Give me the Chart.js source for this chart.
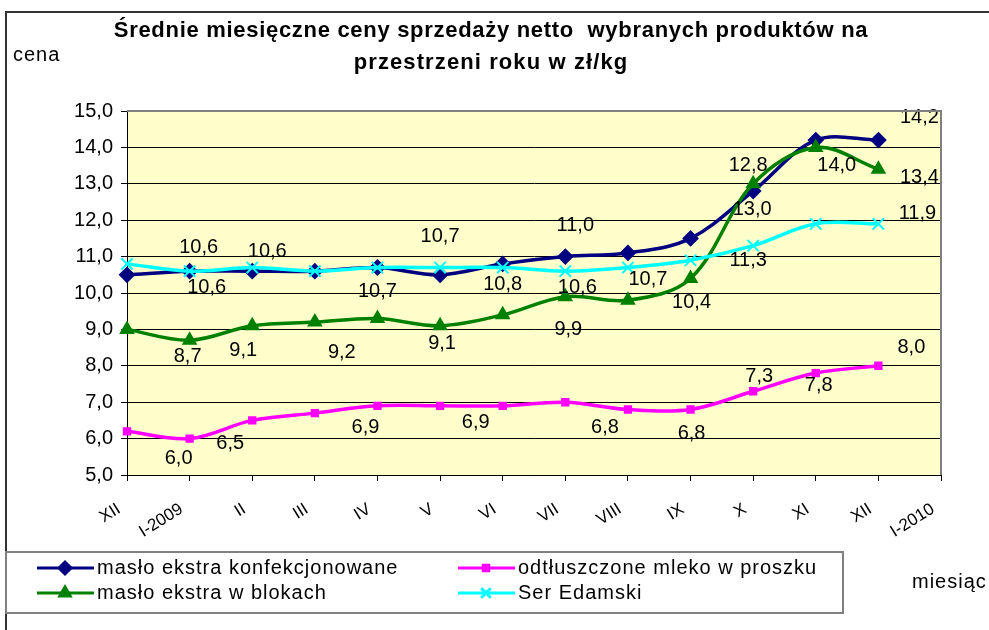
<!DOCTYPE html>
<html>
<head>
<meta charset="utf-8">
<script src="https://cdn.jsdelivr.net/npm/chart.js@4.4.1/dist/chart.umd.min.js"></script>
<style>
  html, body { margin: 0; padding: 0; background: #fff; }
  canvas { display: block; }
</style>
</head>
<body>
<canvas id="wykres" width="989" height="630"></canvas>
<script>
// miesiace na osi X
const months = ['XII', 'I-2009', 'II', 'III', 'IV', 'V', 'VI', 'VII', 'VIII', 'IX', 'X', 'XI', 'XII', 'I-2010'];

// ceny w zl/kg
const masloKonf = [10.5, 10.6, 10.6, 10.6, 10.7, 10.5, 10.8, 11.0, 11.1, 11.5, 12.8, 14.2, 14.2];
const mleko = [6.2, 6.0, 6.5, 6.7, 6.9, 6.9, 6.9, 7.0, 6.8, 6.8, 7.3, 7.8, 8.0];
const masloBloki = [9.0, 8.7, 9.1, 9.2, 9.3, 9.1, 9.4, 9.9, 9.8, 10.4, 13.0, 14.0, 13.4];
const ser = [10.8, 10.6, 10.7, 10.6, 10.7, 10.7, 10.7, 10.6, 10.7, 10.9, 11.3, 11.9, 11.9];

const yTicks = [5, 6, 7, 8, 9, 10, 11, 12, 13, 14, 15];

// ktore punkty maja etykiete: [indeks, przesuniecie x, przesuniecie y]
const etykMasloKonf = [[1, 9, -24], [2, 15, -20], [6, 0, 21], [7, 10, -31], [10, -5, -26], [12, 41, -23]];
const etykMleko = [[1, -11, 20], [2, -22, 23], [4, -12, 22], [6, -27, 17], [8, -23, 18], [9, 1, 24], [10, 6, -15], [11, 3, 12], [12, 33, -18]];
const etykMasloBloki = [[1, -2, 16], [2, -9, 25], [3, 27, 30], [5, 2, 18], [7, 3, 33], [9, 1, 24], [10, -1, 26], [11, 21, 18], [12, 41, 8]];
const etykSer = [[1, 17, 16], [4, 0, 24], [5, 0, -31], [7, 12, 16], [8, 20, 12], [10, -5, 15], [12, 39, -10]];

const FONT = 'Arial, "Liberation Sans", sans-serif';
const fmt = v => v.toFixed(1).replace('.', ',');

const serie = [
    { label: 'masło ekstra konfekcjonowane', data: masloKonf, color: '#000080', style: 'rectRot', r: 7, etyk: etykMasloKonf, order: 4 },
    { label: 'odtłuszczone mleko w proszku', data: mleko, color: '#FF00FF', style: 'rect', r: 4.5, etyk: etykMleko, order: 3 },
    { label: 'masło ekstra w blokach', data: masloBloki, color: '#008000', style: 'triangle', r: 7, etyk: etykMasloBloki, order: 2 },
    { label: 'Ser Edamski', data: ser, color: '#00FFFF', style: 'crossRot', r: 8, etyk: etykSer, order: 1 }
];

const tlo = {
    id: 'tlo',
    beforeDraw(chart) {
        const { ctx, chartArea: a } = chart;
        ctx.save();
        ctx.fillStyle = '#FFFFCC';
        ctx.fillRect(a.left, a.top, a.right - a.left, a.bottom - a.top);
        ctx.restore();
    },
    afterDraw(chart) {
        const { ctx, chartArea: a } = chart;
        ctx.save();
        // ramka obszaru wykresu
        ctx.strokeStyle = '#808080';
        ctx.lineWidth = 2;
        ctx.beginPath();
        ctx.moveTo(a.left, a.top);
        ctx.lineTo(a.right, a.top);
        ctx.lineTo(a.right, a.bottom);
        ctx.stroke();

        // ramka calosci
        ctx.strokeStyle = '#333';
        ctx.lineWidth = 2;
        ctx.beginPath();
        ctx.moveTo(6, 630);
        ctx.lineTo(6, 12);
        ctx.lineTo(989, 12);
        ctx.stroke();

        // tytul
        ctx.fillStyle = '#000';
        ctx.textAlign = 'center';
        ctx.textBaseline = 'middle';
        ctx.font = 'bold 22px ' + FONT;
        ctx.letterSpacing = '0.7px';
        ctx.fillText('Średnie miesięczne ceny sprzedaży netto  wybranych produktów na', 491, 31);
        ctx.letterSpacing = '1.1px';
        ctx.fillText('przestrzeni roku w zł/kg', 491, 63);

        ctx.font = '20px ' + FONT;
        ctx.letterSpacing = '1px';
        ctx.textAlign = 'left';
        ctx.fillText('cena', 13, 55);
        ctx.fillText('miesiąc', 912, 582);

        // legenda
        ctx.letterSpacing = '0px';
        ctx.strokeStyle = '#808080';
        ctx.lineWidth = 2;
        ctx.strokeRect(6, 552, 837, 61);
        const poz = [[37, 568], [458, 568], [37, 593], [458, 593]];
        ctx.textBaseline = 'middle';
        serie.forEach((s, k) => {
            const [x, y] = poz[k];
            ctx.strokeStyle = s.color;
            ctx.lineWidth = 3;
            ctx.beginPath();
            ctx.moveTo(x, y);
            ctx.lineTo(x + 57, y);
            ctx.stroke();
            ctx.fillStyle = s.color;
            Chart.helpers.drawPoint(ctx, {
                pointStyle: s.style, radius: s.r * 0.85, rotation: 0, borderWidth: 2
            }, x + 28, y);
            ctx.fillStyle = '#000';
            ctx.font = '20px ' + FONT;
            ctx.letterSpacing = '1px';
            ctx.fillText(s.label, x + 60, y);
            ctx.letterSpacing = '0px';
        });
        ctx.restore();
    },
    afterDatasetsDraw(chart) {
        const { ctx } = chart;
        ctx.save();
        ctx.fillStyle = '#000';
        ctx.font = '20px ' + FONT;
        ctx.textAlign = 'center';
        ctx.textBaseline = 'middle';
        serie.forEach((s, k) => {
            const meta = chart.getDatasetMeta(k);
            s.etyk.forEach(([i, dx, dy]) => {
                const p = meta.data[i];
                ctx.fillText(fmt(s.data[i]), p.x + dx, p.y + dy);
            });
        });
        ctx.restore();
    }
};

new Chart(document.getElementById('wykres'), {
    type: 'line',
    data: {
        labels: months,
        datasets: serie.map(s => ({
            label: s.label,
            data: s.data,
            borderColor: s.color,
            backgroundColor: s.color,
            borderWidth: 3.5,
            pointStyle: s.style,
            pointRadius: s.r,
            pointBorderWidth: 2,
            pointBorderColor: s.color,
            pointBackgroundColor: s.color,
            tension: 0.35,
            order: s.order,
            fill: false
        }))
    },
    options: {
        responsive: false,
        animation: false,
        devicePixelRatio: 1,
        layout: { padding: { left: 0, right: 48, top: 111, bottom: 0 } },
        plugins: {
            legend: { display: false },
            title: { display: false },
            tooltip: { enabled: false }
        },
        scales: {
            x: {
                offset: false,
                grid: { drawOnChartArea: false, color: '#000', tickLength: 6 },
                border: { color: '#000', width: 1 },
                ticks: {
                    autoSkip: false,
                    maxRotation: 32,
                    minRotation: 32,
                    color: '#000',
                    padding: 18,
                    labelOffset: -8,
                    font: { family: FONT, size: 17 }
                },
                afterFit: s => { s.height = 155; }
            },
            y: {
                min: 5,
                max: 15,
                afterBuildTicks: s => { s.ticks = yTicks.map(v => ({ value: v })); },
                grid: { color: '#000', lineWidth: 1, tickLength: 6 },
                border: { color: '#000', width: 1 },
                ticks: {
                    color: '#000',
                    padding: 8,
                    font: { family: FONT, size: 20 },
                    callback: v => fmt(v)
                },
                afterFit: s => { s.width = 127; }
            }
        }
    },
    plugins: [tlo]
});
</script>
</body>
</html>
